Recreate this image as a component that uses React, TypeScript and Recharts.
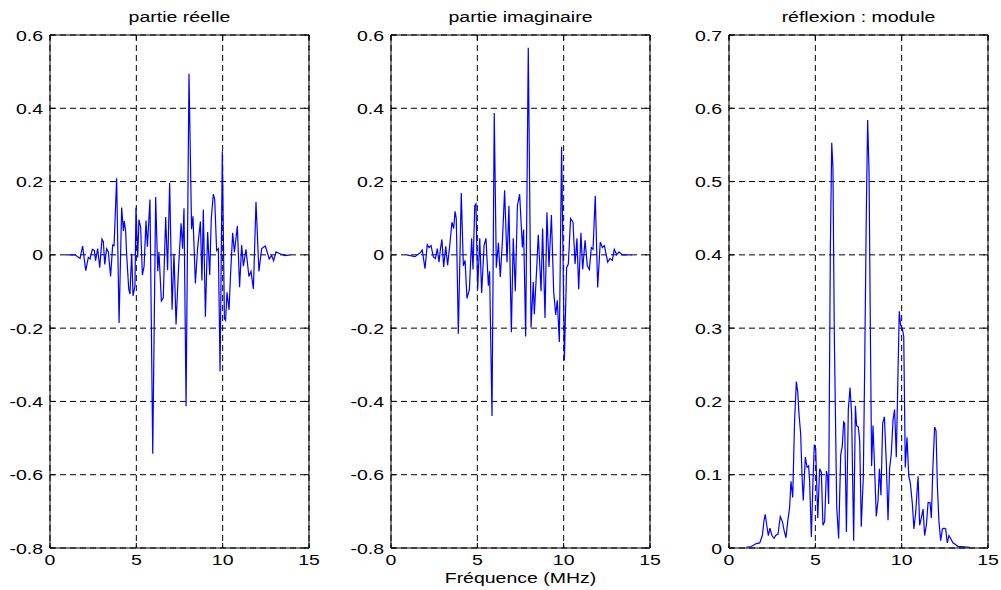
import React from 'react';
import { LineChart, Line, XAxis, YAxis, CartesianGrid } from 'recharts';

// ---------- data ----------
const reFreq = [0.93, 1.45, 1.74, 1.89, 2.07, 2.22, 2.32, 2.45, 2.57, 2.64, 2.76, 2.88, 3.01, 3.09, 3.17, 3.28, 3.38, 3.51, 3.63, 3.71, 3.86, 4.0, 4.15, 4.25, 4.3, 4.38, 4.44, 4.56, 4.63, 4.73, 4.81, 4.92, 4.98, 5.08, 5.15, 5.25, 5.35, 5.45, 5.56, 5.64, 5.79, 5.95, 6.12, 6.24, 6.31, 6.45, 6.56, 6.7, 6.81, 6.93, 7.07, 7.18, 7.3, 7.45, 7.59, 7.68, 7.76, 7.88, 8.05, 8.2, 8.28, 8.42, 8.55, 8.71, 8.8, 8.88, 9.0, 9.13, 9.25, 9.34, 9.46, 9.54, 9.65, 9.75, 9.85, 9.98, 10.1, 10.17, 10.25, 10.37, 10.46, 10.58, 10.68, 10.85, 10.98, 11.1, 11.2, 11.35, 11.52, 11.64, 11.78, 11.93, 12.1, 12.26, 12.47, 12.7, 12.84, 12.95, 13.09, 13.32, 13.6, 13.94];
const reVal = [0, 0, -0.01, 0.024, -0.043, -0.007, -0.011, 0.015, 0.012, -0.016, 0.017, -0.035, 0.043, 0.036, -0.026, 0.017, 0.008, -0.059, 0.027, 0.025, 0.209, -0.186, 0.129, 0.065, 0.092, 0.065, 0, -0.093, -0.107, 0.003, -0.112, -0.085, 0.129, -0.007, 0.096, 0.075, -0.055, -0.031, 0.094, 0.022, 0.151, -0.543, 0.158, -0.045, 0.008, -0.126, -0.117, 0.103, -0.042, 0.197, -0.15, 0.003, -0.19, -0.031, 0.086, 0.017, 0.127, -0.413, 0.494, 0.07, 0.105, -0.078, 0.019, 0.091, -0.07, 0.124, -0.169, 0.062, -0.055, 0.099, 0.166, 0.151, 0.012, 0.017, -0.318, 0.283, -0.174, -0.179, -0.102, -0.15, -0.05, 0.06, 0.007, 0.079, -0.088, 0.027, -0.031, 0.015, -0.059, -0.045, -0.093, 0.144, -0.045, 0.017, 0.024, -0.011, -0.002, -0.016, 0.008, 0.003, -0.002, 0];

const imFreq = [0.91, 1.39, 1.68, 1.81, 1.97, 2.1, 2.2, 2.32, 2.45, 2.57, 2.68, 2.78, 2.86, 2.95, 3.05, 3.17, 3.28, 3.4, 3.53, 3.63, 3.71, 3.78, 3.9, 4.07, 4.19, 4.29, 4.4, 4.54, 4.67, 4.75, 4.85, 4.92, 5.02, 5.14, 5.25, 5.39, 5.5, 5.64, 5.71, 5.85, 5.98, 6.1, 6.22, 6.33, 6.45, 6.58, 6.72, 6.83, 6.97, 7.08, 7.2, 7.32, 7.45, 7.61, 7.68, 7.8, 7.95, 8.11, 8.24, 8.3, 8.44, 8.53, 8.69, 8.78, 8.92, 9.03, 9.15, 9.29, 9.42, 9.54, 9.63, 9.75, 9.88, 10.04, 10.17, 10.27, 10.4, 10.54, 10.66, 10.77, 10.87, 11.0, 11.1, 11.24, 11.37, 11.49, 11.6, 11.7, 11.83, 11.97, 12.12, 12.24, 12.36, 12.55, 12.68, 12.82, 12.93, 13.07, 13.2, 13.4, 13.94];
const imVal = [0, -0.005, 0.005, 0.013, -0.038, 0.028, 0.02, 0.025, -0.005, -0.01, 0.017, -0.02, 0.015, 0.042, -0.033, 0.023, -0.028, 0.025, 0.089, 0.072, 0.119, 0.099, -0.215, 0.169, -0.03, -0.015, -0.119, -0.094, 0.045, -0.04, 0.134, 0.139, -0.094, 0.045, -0.104, 0.025, 0.045, -0.084, -0.045, -0.44, 0.387, -0.035, 0.033, -0.06, 0.035, 0.176, -0.02, 0.134, -0.211, 0.045, -0.099, 0.134, 0.166, 0.02, 0.069, -0.223, 0.565, -0.198, -0.074, -0.162, -0.035, 0.055, -0.099, 0.072, -0.172, 0.116, -0.033, 0.109, -0.099, -0.164, -0.124, -0.238, 0.295, -0.288, -0.035, -0.025, 0.099, 0.089, -0.025, 0.045, -0.094, 0.06, -0.04, 0.04, -0.03, -0.04, 0.02, 0.015, 0.161, -0.089, 0.035, 0.02, 0.025, -0.02, -0.01, -0.015, 0.015, 0, 0.008, 0, 0];

const modFreq = [1.0, 1.29, 1.58, 1.78, 1.93, 2.03, 2.1, 2.2, 2.28, 2.37, 2.49, 2.61, 2.7, 2.84, 2.97, 3.09, 3.19, 3.3, 3.4, 3.51, 3.59, 3.69, 3.8, 3.9, 3.98, 4.05, 4.15, 4.23, 4.3, 4.42, 4.52, 4.61, 4.67, 4.77, 4.86, 4.94, 5.02, 5.14, 5.25, 5.35, 5.44, 5.54, 5.64, 5.71, 5.77, 5.87, 5.95, 6.02, 6.1, 6.24, 6.35, 6.47, 6.56, 6.64, 6.7, 6.8, 6.91, 7.01, 7.1, 7.22, 7.32, 7.39, 7.49, 7.57, 7.66, 7.78, 7.86, 7.95, 8.03, 8.11, 8.19, 8.26, 8.34, 8.42, 8.53, 8.63, 8.71, 8.8, 8.9, 9.0, 9.11, 9.21, 9.3, 9.4, 9.5, 9.59, 9.69, 9.79, 9.86, 9.94, 10.04, 10.12, 10.21, 10.31, 10.41, 10.5, 10.62, 10.71, 10.81, 10.95, 11.04, 11.14, 11.24, 11.33, 11.43, 11.53, 11.64, 11.72, 11.81, 11.91, 11.99, 12.07, 12.16, 12.26, 12.36, 12.45, 12.55, 12.64, 12.74, 12.86, 12.97, 13.1, 13.26, 13.46, 13.94];
const modVal = [0.001, 0.002, 0.006, 0.007, 0.017, 0.038, 0.046, 0.029, 0.017, 0.027, 0.017, 0.013, 0.017, 0.019, 0.043, 0.036, 0.024, 0.014, 0.036, 0.055, 0.091, 0.069, 0.175, 0.227, 0.213, 0.184, 0.156, 0.098, 0.065, 0.124, 0.11, 0.112, 0.091, 0.015, 0.089, 0.141, 0.136, 0.041, 0.108, 0.103, 0.031, 0.036, 0.105, 0.098, 0.06, 0.409, 0.553, 0.519, 0.289, 0.055, 0.013, 0.127, 0.139, 0.172, 0.17, 0.022, 0.189, 0.219, 0.184, 0.01, 0.194, 0.167, 0.165, 0.146, 0.029, 0.098, 0.251, 0.452, 0.584, 0.514, 0.289, 0.112, 0.167, 0.117, 0.043, 0.065, 0.108, 0.072, 0.17, 0.179, 0.117, 0.038, 0.108, 0.129, 0.175, 0.189, 0.124, 0.242, 0.323, 0.304, 0.299, 0.289, 0.11, 0.151, 0.098, 0.089, 0.06, 0.026, 0.048, 0.098, 0.031, 0.041, 0.053, 0.017, 0.031, 0.062, 0.062, 0.041, 0.112, 0.165, 0.16, 0.084, 0.036, 0.01, 0.026, 0.027, 0.026, 0.007, 0.017, 0.012, 0.007, 0.005, 0.002, 0.002, 0.001];

const freqTicks = [0, 5, 10, 15];
const signedTicks = [-0.8, -0.6, -0.4, -0.2, 0, 0.2, 0.4, 0.6];
const moduleTicks = [0, 0.1, 0.2, 0.3, 0.4, 0.5, 0.6, 0.7];
const titles = ['partie réelle', 'partie imaginaire', 'réflexion : module'];
const xLabel = 'Fréquence (MHz)';

// ---------- styling ----------
const FONT = '"Liberation Sans", Arial, Helvetica, sans-serif';
const STRETCH = 1.3;
const PANEL_W = 324;
const PANEL_H = 590;
const Y_AXIS_W = 50;
const PLOT_W = 259;
const panelLefts = [0, 341, 679];

const toRows = (fs: number[], vs: number[]) => fs.map((f, i) => ({ f, v: vs[i] }));

const fmt = (v: number) => (v === 0 ? '0' : String(Number(v.toFixed(1))));

const YTick = (props: any) => {
  const { x, y, payload } = props;
  return (
    <g transform={`translate(${x},${y})`}>
      <text x={0} y={0} dy={5.5} textAnchor="end" transform={`scale(${STRETCH},1)`} fontSize={15} fontFamily={FONT} fill="#000">
        {fmt(payload.value)}
      </text>
    </g>
  );
};

const XTick = (props: any) => {
  const { x, y, payload } = props;
  return (
    <g transform={`translate(${x},${y})`}>
      <text x={0} y={0} dy={9.5} textAnchor="middle" transform={`scale(${STRETCH},1)`} fontSize={15} fontFamily={FONT} fill="#000">
        {String(payload.value)}
      </text>
    </g>
  );
};

const EmptyTick = () => <g />;

type PanelProps = { left: number; rows: { f: number; v: number }[]; domain: [number, number]; ticks: number[] };

function Panel({ left, rows, domain, ticks }: PanelProps) {
  return (
    <div style={{ position: 'absolute', left, top: 0 }}>
      <LineChart width={PANEL_W} height={PANEL_H} data={rows} margin={{ top: 34, right: 14, bottom: 0, left: 0 }}>
        <CartesianGrid xAxisId="b" yAxisId="l" stroke="#000" strokeWidth={1} strokeDasharray="6 4" />
        <XAxis xAxisId="b" dataKey="f" type="number" domain={[0, 15]} ticks={freqTicks} orientation="bottom" height={42} tickSize={-5} tickMargin={12} tick={XTick} stroke="#000" allowDataOverflow />
        <XAxis xAxisId="t" dataKey="f" type="number" domain={[0, 15]} ticks={freqTicks} orientation="top" height={1} tickSize={-5} tick={EmptyTick} stroke="#000" allowDataOverflow />
        <YAxis yAxisId="l" type="number" domain={domain} ticks={ticks} orientation="left" width={Y_AXIS_W} tickSize={-5} tickMargin={12} tick={YTick} stroke="#000" allowDataOverflow />
        <YAxis yAxisId="r" type="number" domain={domain} ticks={ticks} orientation="right" width={1} tickSize={-5} tick={EmptyTick} stroke="#000" allowDataOverflow />
        <Line xAxisId="b" yAxisId="l" type="linear" dataKey="v" stroke="#0000ff" strokeWidth={1.2} dot={false} activeDot={false} isAnimationActive={false} />
      </LineChart>
    </div>
  );
}

export default function App() {
  const centers = panelLefts.map((l) => l + Y_AXIS_W + PLOT_W / 2);
  return (
    <div style={{ position: 'absolute', left: 0, top: 0, width: 1001, height: 590, background: '#fff', overflow: 'hidden' }}>
      <Panel left={panelLefts[0]} rows={toRows(reFreq, reVal)} domain={[-0.8, 0.6]} ticks={signedTicks} />
      <Panel left={panelLefts[1]} rows={toRows(imFreq, imVal)} domain={[-0.8, 0.6]} ticks={signedTicks} />
      <Panel left={panelLefts[2]} rows={toRows(modFreq, modVal)} domain={[0, 0.7]} ticks={moduleTicks} />
      <svg width={1001} height={590} style={{ position: 'absolute', left: 0, top: 0, pointerEvents: 'none' }}>
        {titles.map((t, i) => (
          <text key={t} transform={`translate(${centers[i]},22) scale(${STRETCH},1)`} textAnchor="middle" fontSize={15} fontFamily={FONT} fill="#000">
            {t}
          </text>
        ))}
        <text transform={`translate(${centers[1]},583) scale(${STRETCH},1)`} textAnchor="middle" fontSize={15} fontFamily={FONT} fill="#000">
          {xLabel}
        </text>
      </svg>
    </div>
  );
}
